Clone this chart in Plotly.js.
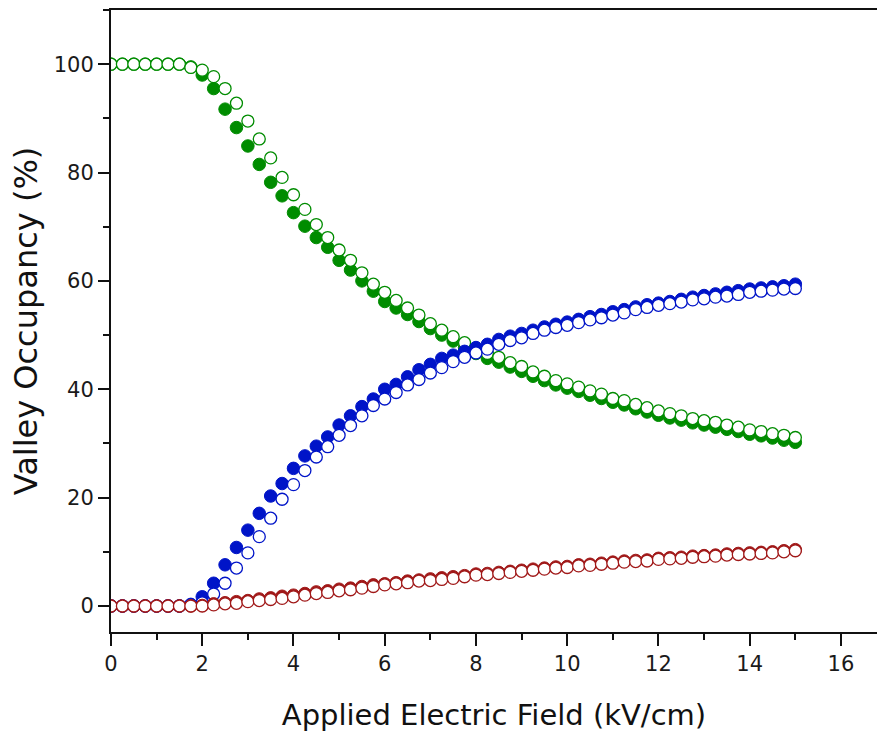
<!DOCTYPE html>
<html>
<head>
<meta charset="utf-8">
<script src="https://cdn.plot.ly/plotly-3.0.1.min.js"></script>
<style>
  html, body { margin: 0; padding: 0; background: #fff; }
  #chart { width: 877px; height: 735px; }
</style>
</head>
<body>
<div id="chart"></div>
<script>
// Applied electric field (kV/cm): 0 to 15 in steps of 0.25
const field = [0,0.25,0.5,0.75,1,1.25,1.5,1.75,2,2.25,2.5,2.75,3,3.25,3.5,3.75,4,4.25,4.5,4.75,5,5.25,5.5,5.75,6,6.25,6.5,6.75,7,7.25,7.5,7.75,8,8.25,8.5,8.75,9,9.25,9.5,9.75,10,10.25,10.5,10.75,11,11.25,11.5,11.75,12,12.25,12.5,12.75,13,13.25,13.5,13.75,14,14.25,14.5,14.75,15];

// Green valley (filled / open markers)
const greenFilled = [100,100,100,100,100,100,100,99.5,98.0,95.5,91.7,88.3,84.9,81.5,78.2,75.7,72.6,70.1,68.0,66.2,63.8,62.0,60.0,58.1,56.2,55.0,53.8,52.5,51.2,50.0,48.9,47.7,46.6,45.7,45.0,44.1,43.3,42.4,41.6,40.8,40.2,39.6,38.9,38.3,37.6,37.1,36.4,35.8,35.2,34.7,34.3,33.8,33.4,33.0,32.6,32.2,31.7,31.4,31.0,30.6,30.2];
const greenOpen = [100,100,100,100,100,100,100,99.4,98.9,97.7,95.5,92.8,89.5,86.2,82.7,79.1,75.9,73.2,70.4,68.0,65.7,63.8,61.5,59.4,57.9,56.4,55.0,53.7,52.1,50.9,49.7,48.6,47.4,46.6,45.9,44.9,44.2,43.2,42.4,41.6,41.0,40.4,39.7,39.1,38.3,37.9,37.2,36.6,36.0,35.5,35.1,34.6,34.2,33.9,33.4,33.0,32.5,32.2,31.8,31.5,31.1];

// Blue valley
const blueFilled = [0,0,0,0,0,0,0,0.3,1.7,4.2,7.6,10.8,14.0,17.1,20.3,22.6,25.4,27.7,29.5,31.2,33.4,35.1,36.8,38.2,40.0,40.9,42.3,43.6,44.6,45.7,46.3,47.0,47.7,48.3,49.2,49.8,50.3,50.9,51.5,52.0,52.4,52.9,53.4,53.8,54.3,54.7,55.2,55.6,55.9,56.2,56.6,57.0,57.3,57.6,57.9,58.2,58.5,58.7,58.9,59.1,59.4];
const blueOpen = [0,0,0,0,0,0,0,0.2,0.6,2.2,4.2,7.0,9.8,12.8,16.2,19.7,22.4,25.0,27.5,29.4,31.5,33.3,35.1,37.0,38.2,39.4,40.8,41.8,43.0,44.0,45.1,45.9,46.7,47.4,48.3,49.0,49.5,50.3,50.9,51.4,51.8,52.3,52.8,53.2,53.7,54.1,54.7,55.1,55.5,55.8,56.1,56.5,56.7,57.0,57.2,57.5,57.9,58.1,58.3,58.5,58.6];

// Red valley
const redFilled = [0,0,0,0,0,0,0,0,0.1,0.4,0.6,0.8,1.0,1.3,1.5,1.8,2.0,2.3,2.6,2.8,3.1,3.3,3.6,3.9,4.1,4.3,4.6,4.8,5.0,5.2,5.4,5.6,5.9,6.0,6.2,6.4,6.6,6.8,7.0,7.2,7.3,7.6,7.7,7.9,8.1,8.3,8.4,8.5,8.8,8.9,9.0,9.2,9.3,9.4,9.6,9.7,9.8,9.9,10.0,10.2,10.4];
const redOpen = [0,0,0,0,0,0,0,0,0.0,0.2,0.4,0.5,0.8,1.0,1.2,1.4,1.7,2.0,2.3,2.5,2.8,3.0,3.3,3.6,3.9,4.1,4.3,4.6,4.7,4.9,5.1,5.4,5.7,5.8,6.0,6.2,6.4,6.6,6.8,7.0,7.1,7.4,7.5,7.7,7.9,8.1,8.2,8.3,8.6,8.7,8.8,9.0,9.1,9.2,9.4,9.5,9.6,9.7,9.8,10.0,10.2];

const xTickVals = [0,2,4,6,8,10,12,14,16];
const yTickVals = [0,20,40,60,80,100];

const GREEN = '#008c00';
const BLUE = '#0014c8';
const RED = '#a01818';

function filled(y, c) {
  return { x: field, y: y, type: 'scatter', mode: 'markers', showlegend: false, hoverinfo: 'x+y',
    marker: { size: 12.5, color: c, line: { color: c, width: 1 } } };
}
function open(y, c) {
  return { x: field, y: y, type: 'scatter', mode: 'markers', showlegend: false, hoverinfo: 'x+y',
    marker: { size: 12, color: '#ffffff', line: { color: c, width: 1.3 } } };
}

const data = [
  filled(greenFilled, GREEN), open(greenOpen, GREEN),
  filled(blueFilled, BLUE), open(blueOpen, BLUE),
  filled(redFilled, RED), open(redOpen, RED)
];

const FONT = '"DejaVu Sans", sans-serif';

const layout = {
  width: 877, height: 735,
  margin: { l: 111, r: 0, t: 10, b: 103 },
  paper_bgcolor: '#ffffff', plot_bgcolor: '#ffffff',
  font: { family: FONT, color: '#111' },
  xaxis: {
    range: [0, 16.79], showgrid: false, zeroline: false,
    showline: true, linecolor: '#111', linewidth: 2, mirror: true,
    ticks: 'outside', ticklen: 12, tickwidth: 2, tickcolor: '#111',
    tickvals: xTickVals, ticktext: xTickVals.map(String),
    tickfont: { family: FONT, size: 21, color: '#1a1a1a' },
    minor: { dtick: 1, tick0: 1, ticks: 'outside', ticklen: 6, tickwidth: 2, tickcolor: '#111', showgrid: false },
    title: { text: 'Applied Electric Field (kV/cm)', font: { family: FONT, size: 29, color: '#111' }, standoff: 29 },
    automargin: false
  },
  yaxis: {
    range: [-4.8, 110.0], showgrid: false, zeroline: false,
    showline: true, linecolor: '#111', linewidth: 2,
    ticks: 'outside', ticklen: 11, tickwidth: 2, tickcolor: '#111',
    tickvals: yTickVals, ticktext: yTickVals.map(String),
    tickfont: { family: FONT, size: 21, color: '#1a1a1a' },
    minor: { dtick: 10, tick0: 10, ticks: 'outside', ticklen: 6, tickwidth: 2, tickcolor: '#111', showgrid: false },
    title: { text: 'Valley Occupancy (%)', font: { family: FONT, size: 32, color: '#111' }, standoff: 7 },
    automargin: false
  }
};

Plotly.newPlot('chart', data, layout, { displayModeBar: false, staticPlot: true });
</script>
</body>
</html>
